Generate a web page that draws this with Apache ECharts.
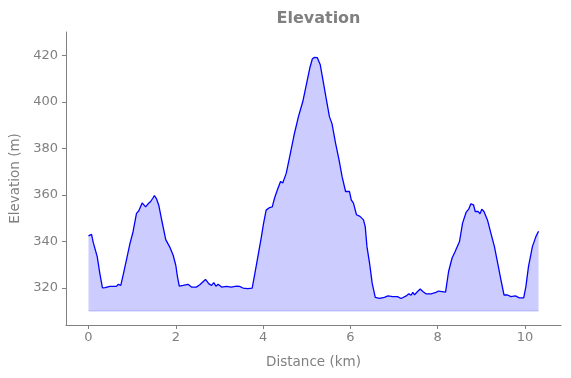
<!DOCTYPE html>
<html>
<head>
<meta charset="utf-8">
<script src="https://cdn.jsdelivr.net/npm/echarts@6/dist/echarts.min.js"></script>
<style>
  html, body { margin: 0; padding: 0; background: #fff; }
  #main { width: 571px; height: 378px; }
</style>
</head>
<body>
<div id="main"></div>
<script>
// distance along the route (km) and elevation (m)
var distance = [0, 0.07, 0.11, 0.20, 0.26, 0.32, 0.38, 0.49, 0.64, 0.68, 0.74, 0.80, 0.87, 0.95,
  1.02, 1.10, 1.15, 1.23, 1.27, 1.31, 1.37, 1.42, 1.47, 1.51, 1.56, 1.61, 1.67, 1.77, 1.86,
  1.94, 2.00, 2.04, 2.08, 2.17, 2.28, 2.36, 2.47, 2.55, 2.68, 2.76, 2.82, 2.87, 2.92, 2.97,
  3.05, 3.16, 3.27, 3.39, 3.46, 3.54, 3.65, 3.75, 3.81, 3.88, 3.96, 4.01, 4.07, 4.15, 4.21,
  4.26, 4.32, 4.36, 4.40, 4.45, 4.53, 4.61, 4.71, 4.81, 4.91, 4.99, 5.07, 5.13, 5.18, 5.24,
  5.28, 5.31, 5.37, 5.45, 5.52, 5.58, 5.66, 5.74, 5.81, 5.89, 5.93, 5.98, 6.02, 6.07, 6.14,
  6.22, 6.30, 6.34, 6.38, 6.44, 6.50, 6.57, 6.67, 6.78, 6.86, 6.97, 7.08, 7.16, 7.28, 7.34,
  7.39, 7.43, 7.47, 7.54, 7.60, 7.66, 7.73, 7.85, 7.96, 8.02, 8.18, 8.25, 8.33, 8.40, 8.50,
  8.57, 8.65, 8.71, 8.76, 8.82, 8.86, 8.93, 8.97, 9.01, 9.06, 9.14, 9.22, 9.30, 9.39, 9.45,
  9.52, 9.60, 9.68, 9.78, 9.87, 9.97, 10.02, 10.08, 10.17, 10.25, 10.31];
var elevation = [342.3, 343.0, 339.4, 333.4, 326.2, 320.0, 320.1, 320.6, 320.6, 321.5, 321.0,
  326.0, 332.0, 339.0, 344.0, 352.0, 353.0, 356.5, 356.5, 354.8, 356.2, 357.0, 358.4, 359.6,
  358.2, 355.5, 349.8, 340.7, 337.6, 334.0, 329.7, 324.6, 320.7, 321.0, 321.5, 320.3, 320.3,
  321.3, 323.6, 321.7, 321.0, 322.2, 320.7, 321.5, 320.3, 320.6, 320.3, 320.7, 320.6, 319.9,
  319.6, 319.9, 326.0, 333.3, 341.8, 347.6, 353.4, 354.5, 354.8, 358.4, 361.7, 362.4, 365.7,
  365.1, 369.2, 376.4, 385.7, 393.6, 400.1, 407.3, 414.5, 418.5, 419.1, 419.0, 418.8, 415.9,
  409.5, 400.9, 393.6, 390.5, 382.2, 375.0, 367.8, 361.4, 360.6, 361.4, 357.8, 356.4, 351.4,
  350.7, 349.2, 346.3, 337.7, 330.5, 321.9, 315.9, 315.4, 315.9, 316.5, 316.2, 316.2, 315.4,
  316.5, 317.4, 316.8, 318.0, 317.0, 318.4, 319.5, 318.4, 317.4, 317.4, 318.0, 318.6, 318.1,
  327.0, 332.8, 335.6, 339.9, 347.8, 352.4, 353.8, 356.1, 355.7, 352.8, 352.8, 351.8, 353.8,
  352.8, 349.2, 343.4, 337.7, 329.1, 323.3, 316.9, 316.9, 316.2, 316.5, 315.7, 315.7, 320.4,
  329.1, 337.7, 342.0, 344.3];
var baseline = 310;
var xTicks = [0, 2, 4, 6, 8, 10];
var yTicks = [320, 340, 360, 380, 400, 420];

var profile = distance.map(function (d, i) { return [d, elevation[i]]; });
var baseEdge = [[distance[0], baseline], [distance[distance.length - 1], baseline]];

var gray = '#808080';
var font = 'DejaVu Sans';

var chart = echarts.init(document.getElementById('main'), null, { renderer: 'canvas' });
chart.setOption({
  animation: false,
  title: {
    text: 'Elevation',
    left: 313.5,
    textAlign: 'center',
    top: 6,
    textStyle: { color: gray, fontFamily: font, fontSize: 16, fontWeight: 'bold' }
  },
  grid: { left: 66, right: 10, top: 32, bottom: 53, containLabel: false },
  xAxis: {
    type: 'value',
    min: -0.515,
    max: 10.825,
    name: 'Distance (km)',
    nameLocation: 'middle',
    nameGap: 30,
    nameTextStyle: { color: gray, fontFamily: font, fontSize: 13.5 },
    splitLine: { show: false },
    axisLine: { onZero: false, lineStyle: { color: gray, width: 1 } },
    axisTick: { show: true, length: 4, customValues: xTicks, lineStyle: { color: gray } },
    axisLabel: { customValues: xTicks, color: gray, fontFamily: font, fontSize: 13, margin: 6 }
  },
  yAxis: {
    type: 'value',
    min: 304,
    max: 430,
    name: 'Elevation (m)',
    nameLocation: 'middle',
    nameGap: 41,
    nameRotate: 90,
    nameTextStyle: { color: gray, fontFamily: font, fontSize: 13.5 },
    splitLine: { show: false },
    axisLine: { show: true, onZero: false, lineStyle: { color: gray, width: 1 } },
    axisTick: { show: true, length: 4, customValues: yTicks, lineStyle: { color: gray } },
    axisLabel: { customValues: yTicks, color: gray, fontFamily: font, fontSize: 13, margin: 8 }
  },
  series: [
    {
      type: 'line',
      data: profile,
      symbol: 'none',
      lineStyle: { color: '#0000ff', width: 1.3 },
      areaStyle: { color: 'rgba(0,0,255,0.2)', origin: baseline, opacity: 1 },
      z: 3
    },
    {
      type: 'line',
      data: baseEdge,
      symbol: 'none',
      silent: true,
      lineStyle: { color: 'rgba(0,0,255,0.2)', width: 1 },
      z: 2
    }
  ]
});
</script>
</body>
</html>
